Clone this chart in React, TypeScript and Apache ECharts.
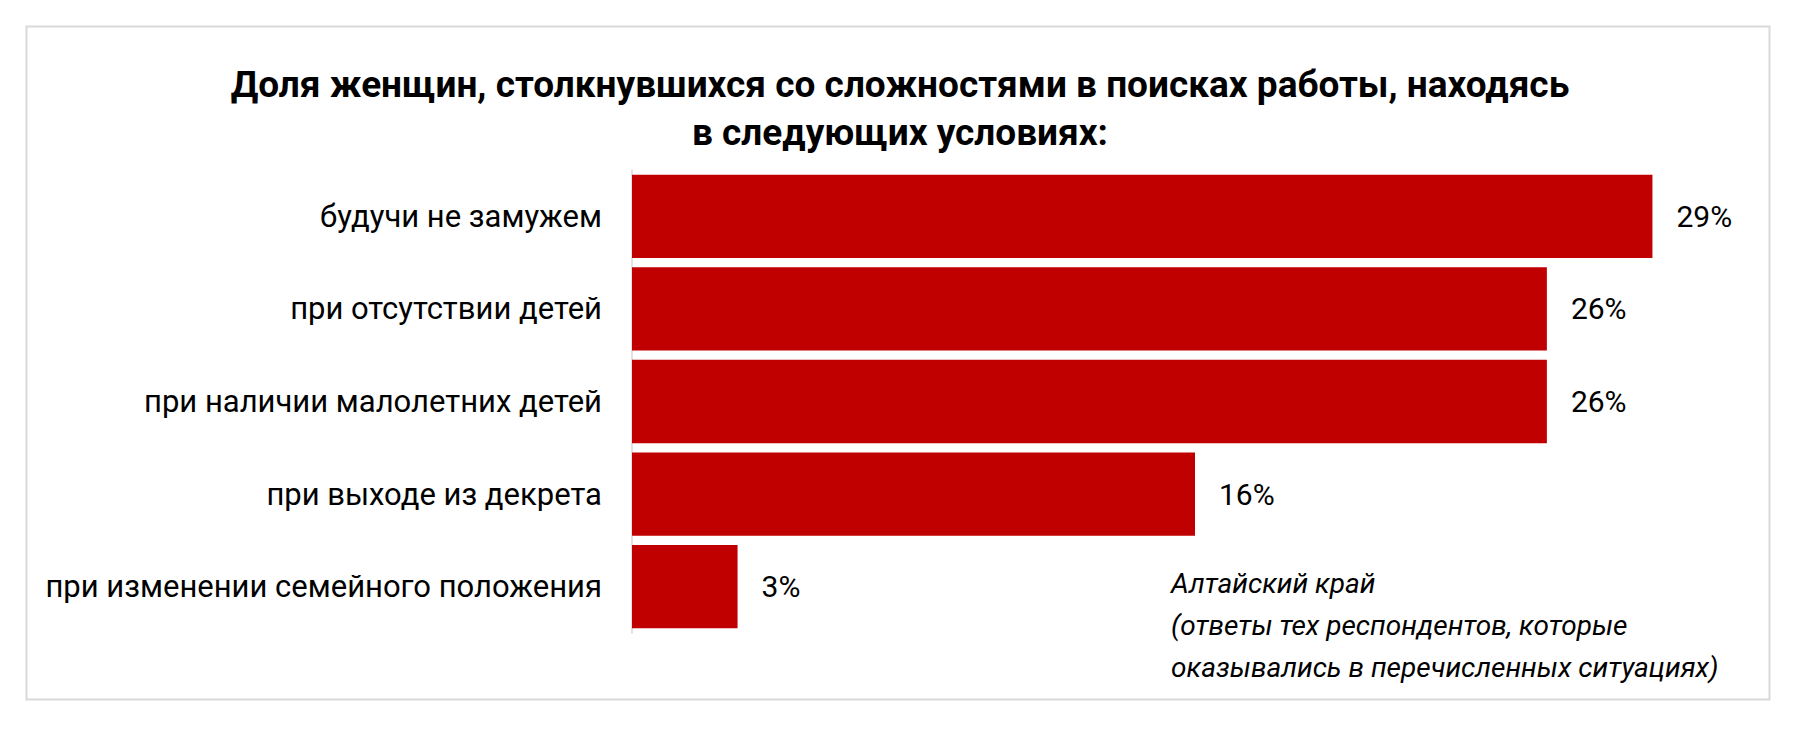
import React, { useEffect, useRef } from "react";
import * as echarts from "echarts";

const titleLines = [
  "Доля женщин, столкнувшихся со сложностями в поисках работы, находясь",
  "в следующих условиях:",
];
const categories = [
  "будучи не замужем",
  "при отсутствии детей",
  "при наличии малолетних детей",
  "при выходе из декрета",
  "при изменении семейного положения",
];
const values = [29, 26, 26, 16, 3];
const noteLines = [
  "Алтайский край",
  "(ответы тех респондентов, которые",
  "оказывались в перечисленных ситуациях)",
];

const FONT = "Roboto, 'Noto Sans', sans-serif";

export default function App() {
  const ref = useRef<HTMLDivElement>(null);

  useEffect(() => {
    if (!ref.current) return;
    const chart = echarts.init(ref.current, null, { renderer: "svg" });
    chart.setOption({
      animation: false,
      backgroundColor: "#ffffff",
      title: {
        text: titleLines.join("\n"),
        left: 895,
        textAlign: "center",
        top: 55,
        textStyle: {
          fontFamily: FONT,
          fontSize: 37,
          fontWeight: "bold",
          color: "#000000",
          lineHeight: 48,
        },
      },
      grid: { left: 632, top: 170, bottom: 100, right: 42, containLabel: false },
      xAxis: { type: "value", min: 0, max: 32, show: false },
      yAxis: {
        type: "category",
        data: categories,
        inverse: true,
        axisTick: { show: false },
        axisLine: { show: true, lineStyle: { color: "#d9d9d9", width: 1.5 } },
        axisLabel: {
          margin: 30,
          fontFamily: FONT,
          fontSize: 31,
          color: "#000000",
        },
      },
      series: [
        {
          type: "bar",
          data: values,
          barCategoryGap: "10%",
          itemStyle: { color: "#C00000" },
          label: {
            show: true,
            position: "right",
            distance: 24,
            fontFamily: FONT,
            fontSize: 30,
            color: "#000000",
            formatter: (p: any) => Math.round(p.value) + "%",
          },
        },
      ],
      graphic: [
        {
          type: "rect",
          left: 24,
          top: 24,
          shape: { x: 0, y: 0, width: 1743, height: 673 },
          style: { fill: "none", stroke: "#d9d9d9", lineWidth: 2 },
          silent: true,
        },
        {
          type: "text",
          x: 1171,
          y: 562,
          style: {
            text: noteLines.join("\n"),
            fontFamily: FONT,
            fontStyle: "italic",
            fontSize: 28,
            lineHeight: 42,
            fill: "#000000",
            textAlign: "left",
            textVerticalAlign: "top",
          },
        },
      ],
    });
    return () => chart.dispose();
  }, []);

  return (
    <div
      ref={ref}
      style={{ position: "fixed", left: 0, top: 0, width: 1800, height: 733 }}
    />
  );
}
